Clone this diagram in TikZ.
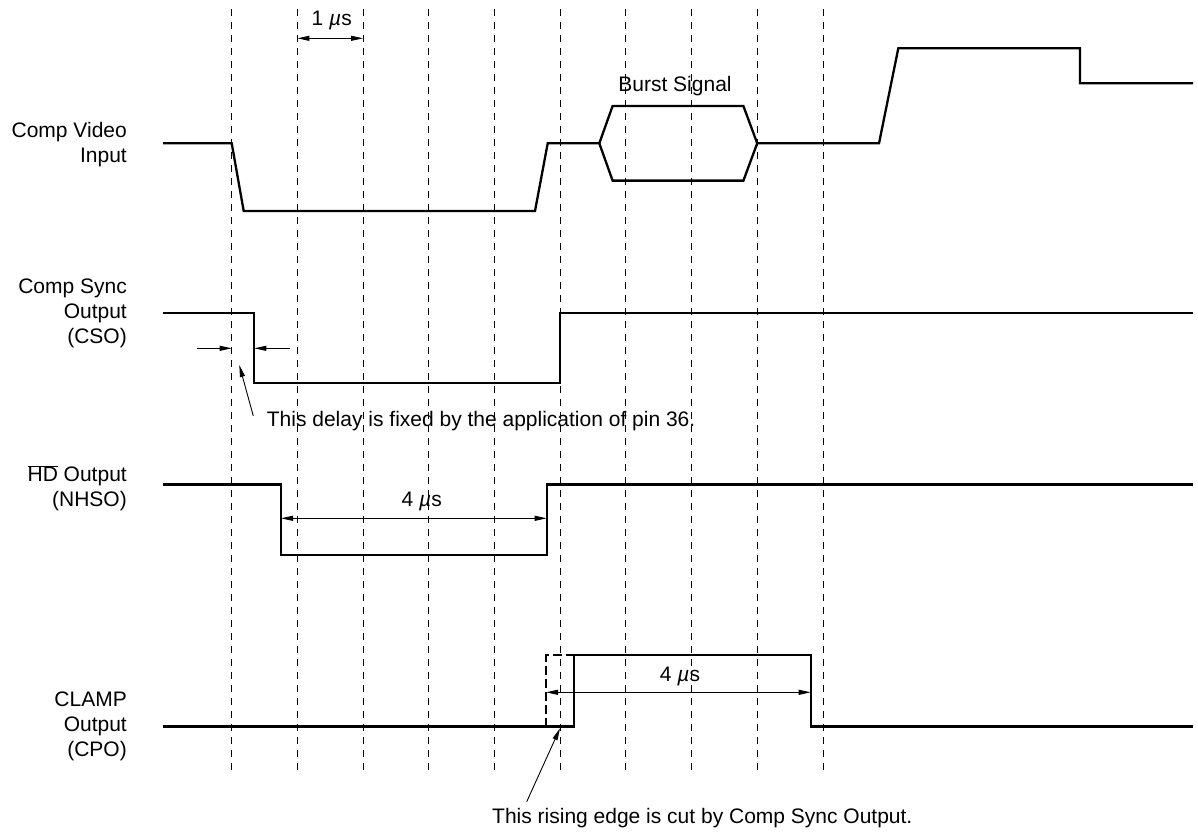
\documentclass[tikz,border=0pt]{standalone}
\usepackage{fontspec}
\setmainfont{Liberation Sans}
\usetikzlibrary{arrows.meta}
\begin{document}
\begin{tikzpicture}[x=1pt,y=-1pt,
  sig/.style={line width=2.3pt, line join=miter},
  sigdash/.style={line width=2.3pt, dash pattern=on 9pt off 4pt},
  guide/.style={line width=0.9pt, dash pattern=on 7pt off 6pt},
  dimarrow/.style={line width=0.9pt, {Triangle[length=12pt,width=5pt]}-{Triangle[length=12pt,width=5pt]}},
  ptr/.style={line width=0.9pt, -{Triangle[length=12pt,width=5pt]}},
  lbl/.style={inner sep=0pt, font=\fontsize{21}{25}\selectfont},
]
\useasboundingbox (0,0) rectangle (1198,836);

% guide lines
\foreach \i in {0,...,9}{
  \pgfmathsetmacro\gx{231.7+65.7*\i}
  \draw[guide] (\gx,9) -- (\gx,775);
}

% signal labels
\node[lbl, align=right, anchor=east] (lcv) at (127,144.5) {Comp Video\\Input};
\node[lbl, align=right, anchor=east] (lcs) at (127,313) {Comp Sync\\Output\\(CSO)};
\node[lbl, align=right, anchor=east] (lhd) at (127,488) {$\overline{\mbox{HD}}$ Output\\(NHSO)};
\node[lbl, align=right, anchor=east] (lcp) at (127,726) {CLAMP\\Output\\(CPO)};

% Comp video input
\draw[sig] (163,143.3) -- (231.7,143.3) -- (243.7,211) -- (535,211) -- (547.7,143.3)
  -- (599.3,143.3) -- (612.6,106) -- (743.4,106) -- (757.2,143.3) -- (879,143.3)
  -- (898.3,48.3) -- (1080,48.3) -- (1080,83.3) -- (1193,83.3);
\draw[sig] (599.3,143.3) -- (612.6,180.6) -- (743.4,180.6) -- (757.2,143.3);
\node[lbl] (burst) at (675,86) {Burst Signal};

% Comp sync output
\draw[sig] (163,312.7) -- (254.3,312.7) -- (254.3,383) -- (560.3,383) -- (560.3,312.7) -- (1193,312.7);

% HD output
\draw[sig] (163,484.5) -- (281,484.5) -- (281,555) -- (546.7,555) -- (546.7,484.5) -- (1193,484.5);

% CLAMP output
\draw[sig] (163,726.5) -- (574,726.5) -- (574,655) -- (810.7,655) -- (810.7,726.5) -- (1193,726.5);
\draw[sigdash] (546,726.5) -- (546,655) -- (574,655);

% 1 us
\coordinate (us1a) at (297.4,38.3);
\coordinate (us1b) at (363.1,38.3);
\draw[dimarrow] (us1a) -- (us1b);
\node[lbl] (t1us) at (331.7,20) {1 \textit{µ}s};

% delay arrows
\coordinate (dla) at (196.7,348.3);
\coordinate (dlb) at (231.7,348.3);
\coordinate (dlc) at (290,348.3);
\coordinate (dld) at (254.3,348.3);
\draw[ptr] (dla) -- (dlb);
\draw[ptr] (dlc) -- (dld);
\coordinate (p1a) at (253.3,416);
\coordinate (p1b) at (239.3,365);
\draw[ptr] (p1a) -- (p1b);
\node[lbl, anchor=west] (tdelay) at (266.7,421) {This delay is fixed by the application of pin 36.};

% HD 4 us
\coordinate (hda) at (281,518.3);
\coordinate (hdb) at (546.7,518.3);
\draw[dimarrow] (hda) -- (hdb);
\node[lbl] (thd) at (421.7,501.7) {4 \textit{µ}s};

% CLAMP 4 us
\coordinate (cpa) at (546,692.3);
\coordinate (cpb) at (810.7,692.3);
\draw[dimarrow] (cpa) -- (cpb);
\node[lbl] (tcp) at (680,676) {4 \textit{µ}s};

\coordinate (p2a) at (526.7,801.7);
\coordinate (p2b) at (560,728.3);
\draw[ptr] (p2a) -- (p2b);
\node[lbl, anchor=west] (tcut) at (492,818) {This rising edge is cut by Comp Sync Output.};
\end{tikzpicture}
\end{document}
